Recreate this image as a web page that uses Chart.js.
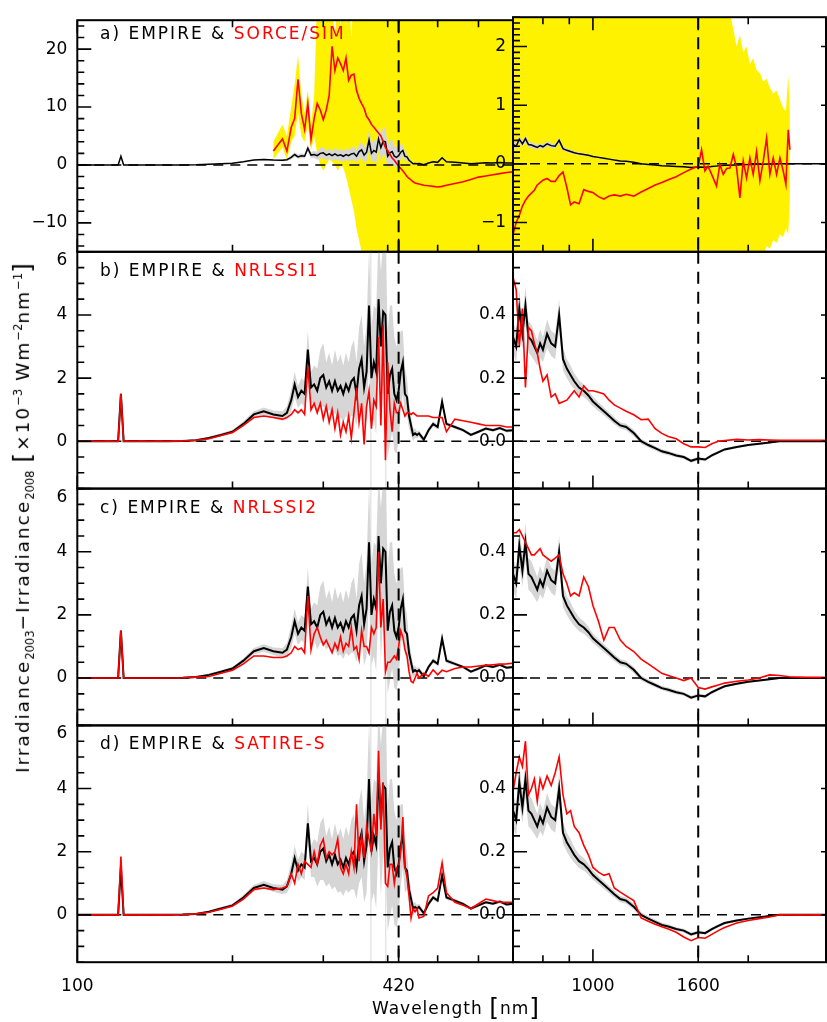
<!DOCTYPE html>
<html>
<head>
<meta charset="utf-8">
<script src="https://cdn.jsdelivr.net/npm/chart.js@4.4.1/dist/chart.umd.min.js"></script>
<style>
  body { margin: 0; background: #fff; }
  #page { position: relative; width: 827px; height: 1022px; overflow: hidden; background: #fff;
          font-family: "DejaVu Sans", sans-serif; color: #000; }
  #page canvas { position: absolute; left: 0; top: 0; }
  .lab { position: absolute; font-size: 17px; letter-spacing: 2px; white-space: nowrap; line-height: 1; z-index: 5; }
  .red { color: #ff0000; }
  .br { font-size: 25px; vertical-align: -2px; }
  #ytitle { position: absolute; left: 23px; top: 517px; transform: translate(-50%, -50%) rotate(-90deg);
            font-size: 18.5px; letter-spacing: 2px; white-space: nowrap; line-height: 1; z-index: 5; }
  #xtitle { position: absolute; left: 456px; top: 1007px; transform: translate(-50%, -50%);
            font-size: 17px; letter-spacing: 1px; white-space: nowrap; line-height: 1; z-index: 5; }
  sub, sup { font-size: 11.5px; letter-spacing: 0; }
</style>
</head>
<body>
<div id="page">
  <div id="ytitle">Irradiance<sub>2003</sub>&minus;Irradiance<sub>2008</sub> <span class="br">[</span>&times;10<sup>&minus;3</sup> Wm<sup>&minus;2</sup>nm<sup>&minus;1</sup><span class="br">]</span></div>
  <div id="xtitle">Wavelength <span class="br">[</span>nm<span class="br">]</span></div>
</div>
<script>
// wavelength grids (nm)
const wlLeft = [
  100, 110, 115, 120, 121.5, 123, 125, 130, 140, 150, 160, 170, 180, 190, 200, 210, 220, 230, 240, 250, 255,
  260, 264, 268, 272, 276, 280, 284, 288, 292, 296, 300, 304, 308,
  312, 316, 320, 324, 328, 332, 336, 340, 344, 348, 352, 356, 360,
  364, 368, 372, 376, 380, 384, 388, 392, 396, 400, 404, 408, 412,
  416, 420, 424, 428, 432, 436, 440, 444, 448, 452, 456, 460,
  470, 480, 490, 500, 510, 520, 540, 560, 580, 600, 620, 640, 660, 680, 700
];
const wlRight = [
  700, 710, 720, 730, 740, 750, 760, 770, 780, 790,
  800, 815, 830, 845, 860, 875, 890, 905, 920, 940,
  960, 980, 1000, 1025, 1050, 1075, 1100, 1130, 1160, 1200,
  1240, 1280, 1320, 1360, 1400, 1450, 1500, 1550, 1600, 1650,
  1700, 1750, 1800, 1900, 2000, 2100, 2200, 2300, 2400, 2600,
  2830
];
const wlSimRight = [
  700, 710, 720, 730, 740, 750, 760, 770, 780, 790,
  800, 815, 830, 845, 860, 875, 890, 905, 920, 940,
  960, 980, 1000, 1025, 1050, 1075, 1100, 1130, 1160, 1200,
  1240, 1280, 1320, 1360, 1400, 1450, 1500, 1550, 1600, 1624,
  1648, 1672, 1710, 1736, 1762, 1789, 1816, 1843, 1871, 1899,
  1927, 1956, 1985, 2015, 2045, 2076, 2107, 2139, 2171, 2203,
  2236, 2270, 2304, 2338, 2366, 2391, 2409
];

// EMPIRE (black) and its uncertainty (grey)
const empireLeft = [
  0, 0, 0, 0, 1.5, 0, 0, 0, 0, 0, 0.01, 0.03, 0.1, 0.2, 0.3, 0.55, 0.85, 0.95, 0.85, 0.8, 0.9,
  1.3, 1.8, 1.4, 1.6, 1.5, 2.9, 1.7, 1.8, 1.6, 2.0, 2.1, 1.7, 1.9,
  1.6, 1.9, 1.6, 1.75, 1.5, 1.8, 1.6, 1.9, 2.0, 1.5, 2.3, 2.6, 1.7,
  2.2, 4.3, 2.0, 2.5, 2.2, 4.5, 3.0, 4.1, 4.0, 1.5, 2.1, 2.3, 1.5,
  1.3, 1.6, 2.2, 2.5, 1.5, 1.4, 0.8, 0.5, 0.2, 0.25, 0.2, 0.25,
  0.05, 0.35, 0.55, 0.45, 1.25, 0.55, 0.45, 0.35, 0.2, 0.3, 0.4, 0.35, 0.42, 0.33, 0.35
];
const empireErrLeft = [
  0.02, 0.02, 0.02, 0.02, 0.05, 0.02, 0.02, 0.02, 0.02, 0.02, 0.02, 0.03, 0.04, 0.05, 0.06, 0.08, 0.1, 0.12, 0.12, 0.15, 0.2,
  0.35, 0.4, 0.35, 0.4, 0.4, 0.6, 0.5, 0.6, 0.7, 0.9, 1.0, 0.8, 0.9,
  0.8, 1.0, 0.9, 1.0, 0.9, 1.0, 0.9, 1.1, 1.2, 1.0, 1.3, 1.4, 1.3,
  1.5, 1.8, 1.6, 1.8, 2.0, 2.0, 2.4, 2.2, 2.5, 2.0, 2.2, 2.0, 1.8,
  1.7, 1.6, 1.3, 1.0, 0.8, 0.6, 0.4, 0.3, 0.2, 0.15, 0.12, 0.1,
  0.08, 0.08, 0.08, 0.07, 0.1, 0.07, 0.06, 0.05, 0.05, 0.05, 0.05, 0.05, 0.05, 0.05, 0.05
];
// two narrow lines where the EMPIRE uncertainty runs off the whole axis
const empireErrSpikeWl = [371, 396.5];
const empireRight = [
  0.33, 0.30, 0.42, 0.34, 0.43, 0.33, 0.32, 0.30, 0.28, 0.31,
  0.29, 0.34, 0.31, 0.30, 0.40, 0.26, 0.23, 0.21, 0.19, 0.17,
  0.16, 0.145, 0.126, 0.11, 0.095, 0.08, 0.065, 0.05, 0.045, 0.026,
  0.0, -0.012, -0.022, -0.032, -0.037, -0.045, -0.05, -0.062, -0.055, -0.058,
  -0.045, -0.035, -0.026, -0.018, -0.012, -0.008, -0.004, 0.0, 0.0, 0.0,
  0.0
];
const empireErrRight = [
  0.05, 0.05, 0.06, 0.05, 0.06, 0.05, 0.05, 0.045, 0.04, 0.045,
  0.04, 0.045, 0.04, 0.04, 0.05, 0.035, 0.03, 0.03, 0.025, 0.022,
  0.02, 0.018, 0.015, 0.014, 0.013, 0.012, 0.011, 0.01, 0.01, 0.01,
  0.008, 0.008, 0.007, 0.007, 0.007, 0.006, 0.006, 0.006, 0.006, 0.005,
  0.005, 0.005, 0.004, 0.004, 0.003, 0.003, 0.003, 0.002, 0.002, 0.002,
  0.002
];

// SORCE/SIM (red, panel a) and its uncertainty (yellow)
const simLeft = [
  null, null, null, null, null, null, null, null, null, null, null, null, null, null, null, null, null, null, 2.4, 4.5, 2.4,
  6.5, 8.0, 14.8, 8.9, 6.1, 10.6, 4.4, 8.0, 10.6, 9.5, 7.8, 9.5, 12.0,
  20.5, 16.3, 18.5, 17.5, 16.3, 18.5, 14.6, 15.5, 15.7, 12.9, 11.5, 10.6, 9.8,
  8.4, 7.8, 7.0, 6.5, 6.0, 5.5, 5.0, 4.0, 3.0, 2.5, 1.8, 1.2, 0.8,
  0.3, -0.2, -0.6, -1.0, -1.5, -2.0, -2.3, -2.6, -2.9, -3.1, -3.2, -3.3,
  -3.5, -3.6, -3.7, -3.8, -3.7, -3.5, -3.2, -2.9, -2.5, -2.1, -1.9, -1.7, -1.5, -1.3, -1.2
];
const simLowLeft = [
  null, null, null, null, null, null, null, null, null, null, null, null, null, null, null, null, null, null, 1.0, 3.0, 1.0,
  4.0, 5.0, 9.0, 5.0, 4.0, 7.0, 2.5, 5.0, 2.0, 0.0, -1.0, 0.0, 1.0,
  0.5, 0.0, -1.0, 0.0, -0.5, -2.0, -4.0, -6.0, -8.0, -11, -13, -15, -20,
  -20, -20, -20, -20, -20, -20, -20, -20, -20, -20, -20, -20, -20,
  -20, -20, -20, -20, -20, -20, -20, -20, -20, -20, -20, -20,
  -20, -20, -20, -20, -20, -20, -20, -20, -20, -20, -20, -20, -20, -20, -20
];
const simHighLeft = [
  null, null, null, null, null, null, null, null, null, null, null, null, null, null, null, null, null, null, 4.0, 7.0, 5.0,
  10, 14, 19, 12, 9, 13, 7, 12, 30, 30, 30, 30, 30,
  27, 22, 30, 24, 30, 24, 30, 22, 30, 30, 30, 30, 30,
  30, 30, 30, 30, 30, 30, 30, 30, 30, 30, 30, 30, 30,
  30, 30, 30, 30, 30, 30, 30, 30, 30, 30, 30, 30,
  30, 30, 30, 30, 30, 30, 30, 30, 30, 30, 30, 30, 30, 30, 30
];
const simRight = [
  -1.2, -1.0, -0.88, -0.72, -0.62, -0.55, -0.5, -0.45, -0.36, -0.32,
  -0.28, -0.25, -0.3, -0.3, -0.2, -0.14, -0.4, -0.7, -0.65, -0.68,
  -0.44, -0.47, -0.49, -0.56, -0.6, -0.55, -0.53, -0.55, -0.52, -0.55,
  -0.48, -0.42, -0.36, -0.32, -0.27, -0.22, -0.15, -0.09, -0.04, 0.24,
  -0.12, -0.04, -0.24, -0.38, -0.01, -0.18, -0.08, -0.07, 0.16, -0.07,
  -0.58, 0.05, -0.24, 0.1, -0.18, 0.21, -0.29, 0.05, 0.44, -0.18,
  0.1, -0.18, 0.1, -0.12, -0.35, 0.58, 0.24
];
const simLowRight = [
  -3, -3, -3, -3, -3, -3, -3, -3, -3, -3,
  -3, -3, -3, -3, -3, -3, -3, -3, -3, -3,
  -3, -3, -3, -3, -3, -3, -3, -3, -3, -3,
  -3, -3, -3, -3, -3, -3, -3, -3, -3, -3,
  -3, -3, -3, -3, -3, -3, -3, -3, -3, -3,
  -3, -3, -3, -3, -3, -3, -3, -1.6, -1.4, -1.45,
  -1.3, -1.35, -1.2, -1.25, -1.1, -1.2, -0.6
];
const simHighRight = [
  3, 3, 3, 3, 3, 3, 3, 3, 3, 3,
  3, 3, 3, 3, 3, 3, 3, 3, 3, 3,
  3, 3, 3, 3, 3, 3, 3, 3, 3, 3,
  3, 3, 3, 3, 3, 3, 3, 3, 3, 3,
  3, 3, 3, 3, 3, 3, 3, 2.6, 2.3, 2.0,
  2.2, 1.9, 2.0, 1.7, 1.8, 1.6, 1.55, 1.4, 1.45, 1.3,
  1.2, 1.25, 1.1, 0.95, 0.9, 1.5, 0.9
];

// NRLSSI1 (panel b)
const nrl1Left = [
  0, 0, 0, 0, 1.5, 0, 0, 0, 0, 0, 0.01, 0.03, 0.08, 0.18, 0.28, 0.5, 0.75, 0.8, 0.75, 0.7, 0.75,
  0.85, 1.0, 0.9, 1.0, 0.85, 2.4, 1.0, 1.2, 0.9, 1.2, 0.7, 1.1, 0.6,
  1.0, 0.4, 0.9, 0.2, 0.6, 0.3, 0.8, 0.1, 0.9, 1.7, 0.6, 1.2, -0.1,
  1.1, 1.6, 0.4, 1.3, 1.1, 3.3, 0.5, 3.7, -0.6, 2.5, 1.0, 0.3, 1.2,
  0.9, 0.9, 1.2, 1.0, 0.8, 0.9, 0.9, 0.85, 0.9, 0.85, 0.8, 0.8,
  0.8, 0.8, 0.75, 0.75, 0.75, 0.3, 0.7, 0.65, 0.6, 0.55, 0.5, 0.5, 0.5, 0.45, 0.45
];
const nrl1Right = [
  0.52, 0.48, 0.30, 0.42, 0.17, 0.36, 0.35, 0.31, 0.28, 0.23,
  0.19, 0.21, 0.14, 0.15, 0.12, 0.125, 0.13, 0.145, 0.16, 0.14,
  0.175, 0.16, 0.16, 0.155, 0.15, 0.13, 0.115, 0.105, 0.095, 0.084,
  0.068, 0.07, 0.04, 0.025, 0.015, 0.008, -0.008, -0.018, -0.018, -0.02,
  -0.008, 0.0, 0.002, 0.006, 0.004, 0.005, 0.004, 0.003, 0.003, 0.003,
  0.003
];

// NRLSSI2 (panel c)
const nrl2Left = [
  0, 0, 0, 0, 1.5, 0, 0, 0, 0, 0, 0.01, 0.03, 0.05, 0.15, 0.25, 0.45, 0.7, 0.7, 0.65, 0.65, 0.7,
  0.8, 1.0, 0.9, 0.95, 0.8, 2.6, 0.9, 1.4, 1.6, 1.3, 1.05, 1.2, 1.0,
  0.8, 1.1, 0.9, 1.3, 0.85, 1.1, 1.0, 1.6, 0.9, 1.0, 0.6, 1.5, 1.0,
  1.0, 0.8, 1.6, 1.4, 1.6, 4.0, 1.6, 2.5, 0.2, 0.5, 0.5, 0.6, 0.7,
  0.6, 1.0, 1.5, 1.3, 0.9, 0.7, 0.2, -0.1, -0.15, 0.0, 0.15, 0.0,
  0.15, 0.05, 0.26, 0.1, 0.25, 0.2, 0.3, 0.35, 0.35, 0.38, 0.4, 0.42, 0.44, 0.45, 0.47
];
const nrl2Right = [
  0.46, 0.46, 0.47, 0.45, 0.43, 0.41, 0.39, 0.39, 0.40, 0.41,
  0.39, 0.38, 0.37, 0.38, 0.39, 0.33, 0.30, 0.26, 0.27, 0.26,
  0.32, 0.29, 0.23, 0.18, 0.12, 0.16, 0.16, 0.12, 0.10, 0.084,
  0.06, 0.045, 0.03, 0.015, 0.008, 0.0, -0.008, 0.0, -0.03, -0.035,
  -0.028, -0.022, -0.016, -0.01, -0.006, 0.0, 0.01, 0.008, 0.004, 0.002,
  0.002
];

// SATIRE-S (panel d)
const satireLeft = [
  0, 0, 0, 0, 1.85, 0, 0, 0, 0, 0, 0.01, 0.03, 0.08, 0.18, 0.28, 0.5, 0.8, 0.85, 0.8, 0.85, 0.9,
  1.3, 1.0, 1.6, 1.3, 1.7, 1.6, 1.5, 2.0, 1.6, 2.2, 2.4, 1.8, 2.0,
  1.9, 2.0, 2.4, 1.5, 1.3, 1.6, 1.3, 2.0, 1.5, 3.5, 1.7, 2.5, 1.8,
  2.8, 2.4, 2.0, 3.2, 2.5, 5.2, 2.7, 4.2, 1.0, 0.9, 1.6, 1.6, 1.0,
  1.5, 1.5, 2.0, 3.1, 1.5, 1.2, 0.6, -0.1, 0.2, 0.1, 0.2, -0.1,
  -0.05, 0.6, 0.7, 0.85, 1.65, 0.7, 0.4, 0.3, 0.2, 0.35, 0.5, 0.45, 0.4, 0.4, 0.4
];
const satireRight = [
  0.39, 0.45, 0.50, 0.47, 0.55, 0.38, 0.40, 0.43, 0.36, 0.43,
  0.40, 0.44, 0.41, 0.45, 0.50, 0.38, 0.32, 0.33, 0.28, 0.26,
  0.22, 0.19, 0.15, 0.135, 0.125, 0.13, 0.085, 0.072, 0.06, 0.045,
  -0.01, -0.02, -0.03, -0.038, -0.045, -0.055, -0.07, -0.082, -0.072, -0.074,
  -0.062, -0.05, -0.04, -0.026, -0.018, -0.012, -0.007, 0.0, 0.0, 0.0,
  0.0
];

// axes
const xRangeLeft = [100, 700], xRangeRight = [700, 2830];
const xMajorLeft = [100, 420], xMinorLeft = [200, 300, 400, 500, 600];
const xMajorRight = [1000, 1600], xMinorRight = [800, 900, 2000];
const refLineLeft = 420, refLineRight = 1600;
const panelNames = ['SORCE/SIM', 'NRLSSI1', 'NRLSSI2', 'SATIRE-S'];
const panelLetters = ['a', 'b', 'c', 'd'];

Chart.defaults.font.family = "'DejaVu Sans', sans-serif";
Chart.defaults.color = '#000';

const W = 827, H = 1022;
const Y_AXIS_W = 60, X_AXIS_H = 45;
const colEdges = [77.3, 513, 826];
const rowEdges = [15, 251.8, 488.6, 725.4, 962.2];
const page = document.getElementById('page');

function toPoints(wl, vals) {
  const out = [];
  wl.forEach((w, i) => { if (vals[i] != null) out.push({ x: w, y: vals[i] }); });
  return out;
}
function offsetBy(vals, err, sign) {
  return vals.map((v, i) => v == null ? null : v + sign * err[i]);
}
function lineSet(data, color, width, order, refs) {
  return { data, borderColor: color, borderWidth: width, pointRadius: 0, fill: false, order, refLinesBefore: !!refs };
}
function bandSets(lo, hi, color, order) {
  return [
    { data: lo, borderColor: 'rgba(0,0,0,0)', borderWidth: 0, pointRadius: 0, fill: false, order },
    { data: hi, borderColor: 'rgba(0,0,0,0)', borderWidth: 0, pointRadius: 0, fill: '-1', backgroundColor: color, order }
  ];
}
// uncertainty that runs off both ends of the y axis at a single wavelength
function spikeSets(wls, yRange, color, order) {
  return wls.map(w => ({
    data: [{ x: w, y: yRange[0] - 1 }, { x: w, y: yRange[1] + 1 }],
    borderColor: color, borderWidth: 1.3, pointRadius: 0, fill: false, order
  }));
}
function linTicks(min, max, step, majors) {
  const t = [];
  for (let n = Math.ceil(min / step - 1e-9); n <= Math.floor(max / step + 1e-9); n++) {
    const v = +(n * step).toFixed(6);
    t.push({ value: v, major: majors.some(m => Math.abs(m - v) < 1e-9) });
  }
  return t;
}
// a tick sitting on the top frame gets its label nudged inside the panel, as in the original
function nudgeTopLabel(ticks, max, shift) {
  ticks.forEach(t => { if (t.major && Math.abs(t.value - max) < 1e-9) t.hideLabel = true; });
  ticks.push({ value: max - shift, major: true, labelOnly: true, labelValue: max });
  return ticks;
}
function logTicks(majors, minors) {
  return majors.map(v => ({ value: v, major: true }))
    .concat(minors.map(v => ({ value: v, major: false })))
    .sort((a, b) => a.value - b.value);
}
const intFmt = v => v < 0 ? '\u2212' + (-v) : String(v);
const decFmt = v => v.toFixed(1);

const idlFrame = {
  id: 'idlFrame',
  beforeDatasetDraw(chart, args, o) {
    if (!chart.data.datasets[args.index].refLinesBefore) return;
    const { ctx, chartArea: a, scales: { y } } = chart;
    ctx.save();
    ctx.strokeStyle = '#000';
    ctx.lineWidth = 1.5;
    ctx.setLineDash([10, 7]);
    const y0 = y.getPixelForValue(0);
    ctx.beginPath(); ctx.moveTo(a.left, y0); ctx.lineTo(a.right, y0); ctx.stroke();
    ctx.restore();
  },
  afterDatasetsDraw(chart, args, o) {
    const { ctx, chartArea: a, scales: { x } } = chart;
    ctx.save();
    ctx.strokeStyle = '#000';
    ctx.lineWidth = 2;
    ctx.setLineDash([12, 8]);
    const xr = x.getPixelForValue(o.refX);
    ctx.beginPath(); ctx.moveTo(xr, a.top); ctx.lineTo(xr, a.bottom); ctx.stroke();
    ctx.restore();
  },
  afterDraw(chart, args, o) {
    const { ctx, chartArea: a, scales: { x, y } } = chart;
    ctx.save();
    ctx.strokeStyle = '#000';
    ctx.lineWidth = 2;
    ctx.strokeRect(a.left, a.top, a.right - a.left, a.bottom - a.top);
    ctx.lineWidth = 1.6;
    ctx.beginPath();
    x.ticks.forEach(t => {
      const px = x.getPixelForValue(t.value);
      const len = t.major ? 13 : 7;
      ctx.moveTo(px, a.bottom); ctx.lineTo(px, a.bottom - len);
      if (o.topTicks) { ctx.moveTo(px, a.top); ctx.lineTo(px, a.top + len); }
    });
    y.ticks.forEach(t => {
      if (t.labelOnly) return;
      const py = y.getPixelForValue(t.value);
      const len = t.major ? 14 : 7;
      ctx.moveTo(a.left, py); ctx.lineTo(a.left + len, py);
      if (o.rightTicks && t.major) { ctx.moveTo(a.right, py); ctx.lineTo(a.right - 5, py); }
    });
    ctx.stroke();
    ctx.restore();
  }
};

function makePanel(p) {
  const cv = document.createElement('canvas');
  cv.width = W; cv.height = H;
  page.appendChild(cv);
  const [left, right] = p.col;
  const [top, bottom] = p.row;
  new Chart(cv, {
    type: 'line',
    data: { datasets: p.datasets },
    options: {
      responsive: false,
      animation: false,
      devicePixelRatio: 1,
      events: [],
      layout: { padding: { left: left - Y_AXIS_W, right: W - right, top: top, bottom: H - bottom - X_AXIS_H } },
      plugins: {
        legend: { display: false },
        tooltip: { enabled: false },
        idlFrame: { refX: p.refX, topTicks: p.topTicks, rightTicks: p.rightTicks }
      },
      scales: {
        x: {
          type: 'logarithmic', min: p.xRange[0], max: p.xRange[1],
          afterFit: s => { s.height = X_AXIS_H; },
          afterBuildTicks: s => { s.ticks = p.xTicks.map(t => ({ ...t })); },
          grid: { display: false, drawTicks: false }, border: { display: false },
          ticks: {
            autoSkip: false, maxRotation: 0, minRotation: 0, padding: 14,
            font: { size: 17 }, color: '#000',
            callback: (v, i, ts) => (p.showX && ts[i].major) ? String(ts[i].value) : ''
          }
        },
        y: {
          type: 'linear', min: p.yRange[0], max: p.yRange[1],
          afterFit: s => { s.width = Y_AXIS_W; },
          afterBuildTicks: s => { s.ticks = p.yTicks.map(t => ({ ...t })); },
          grid: { display: false, drawTicks: false }, border: { display: false },
          ticks: {
            autoSkip: false, padding: p.yPad,
            font: { size: 17 }, color: '#000',
            callback: (v, i, ts) => {
              const t = ts[i];
              if (!t.major || t.hideLabel) return '';
              return p.fmt(t.labelOnly ? t.labelValue : t.value);
            }
          }
        }
      }
    },
    plugins: [idlFrame]
  });
}

const GREY = '#d6d6d6', SPIKE_GREY = '#e2e2e2', YELLOW = '#fff200', RED = '#ff0000', BLACK = '#000000';
const redLeft = [simLeft, nrl1Left, nrl2Left, satireLeft];
const redRight = [simRight, nrl1Right, nrl2Right, satireRight];

const leftSpecs = [], rightSpecs = [];
for (let r = 0; r < 4; r++) {
  const row = [rowEdges[r], rowEdges[r + 1]];
  const isTop = r === 0;
  const yRangeL = isTop ? [-15, 25] : [-1.5, 6];
  const dsL = [
    lineSet(toPoints(wlLeft, redLeft[r]), RED, 1.6, 1),
    lineSet(toPoints(wlLeft, empireLeft), BLACK, isTop ? 1.5 : 2, 2, true),
    ...bandSets(toPoints(wlLeft, offsetBy(empireLeft, empireErrLeft, -1)),
                toPoints(wlLeft, offsetBy(empireLeft, empireErrLeft, 1)), GREY, 3)
  ];
  if (!isTop) dsL.push(...spikeSets(empireErrSpikeWl, yRangeL, SPIKE_GREY, 4));
  const dsR = [
    lineSet(toPoints(isTop ? wlSimRight : wlRight, redRight[r]), RED, 1.6, 1),
    lineSet(toPoints(wlRight, empireRight), BLACK, isTop ? 1.5 : 2, 2, true),
    ...bandSets(toPoints(wlRight, offsetBy(empireRight, empireErrRight, -1)),
                toPoints(wlRight, offsetBy(empireRight, empireErrRight, 1)), GREY, 3)
  ];
  if (isTop) {
    dsL.push(...bandSets(toPoints(wlLeft, simLowLeft), toPoints(wlLeft, simHighLeft), YELLOW, 5));
    dsR.push(...bandSets(toPoints(wlSimRight, simLowRight), toPoints(wlSimRight, simHighRight), YELLOW, 5));
  }
  leftSpecs.push({
    col: [colEdges[0], colEdges[1]], row, datasets: dsL,
    xRange: xRangeLeft, xTicks: logTicks(xMajorLeft, xMinorLeft), refX: refLineLeft,
    yRange: yRangeL,
    yTicks: isTop ? linTicks(-15, 25, 2, [-10, 0, 10, 20])
                  : nudgeTopLabel(linTicks(-1.5, 6, 0.5, [0, 2, 4, 6]), 6, 0.27),
    fmt: intFmt, yPad: 10, showX: r === 3, topTicks: isTop, rightTicks: false
  });
  rightSpecs.push({
    col: [colEdges[1], colEdges[2]], row, datasets: dsR,
    xRange: xRangeRight, xTicks: logTicks(xMajorRight, xMinorRight), refX: refLineRight,
    yRange: isTop ? [-1.5, 2.5] : [-0.15, 0.6],
    yTicks: isTop ? linTicks(-1.5, 2.5, 0.1, [-1, 0, 1, 2]) : linTicks(-0.15, 0.6, 0.05, [0, 0.2, 0.4]),
    fmt: isTop ? intFmt : decFmt, yPad: 7, showX: r === 3, topTicks: isTop, rightTicks: true
  });
}
leftSpecs.forEach(makePanel);
rightSpecs.forEach(makePanel);

// panel captions
for (let r = 0; r < 4; r++) {
  const d = document.createElement('div');
  d.className = 'lab';
  d.style.left = '100px';
  d.style.top = (rowEdges[r] + 10) + 'px';
  d.innerHTML = panelLetters[r] + ') EMPIRE &amp; <span class="red">' + panelNames[r] + '</span>';
  page.appendChild(d);
}
</script>
</body>
</html>
